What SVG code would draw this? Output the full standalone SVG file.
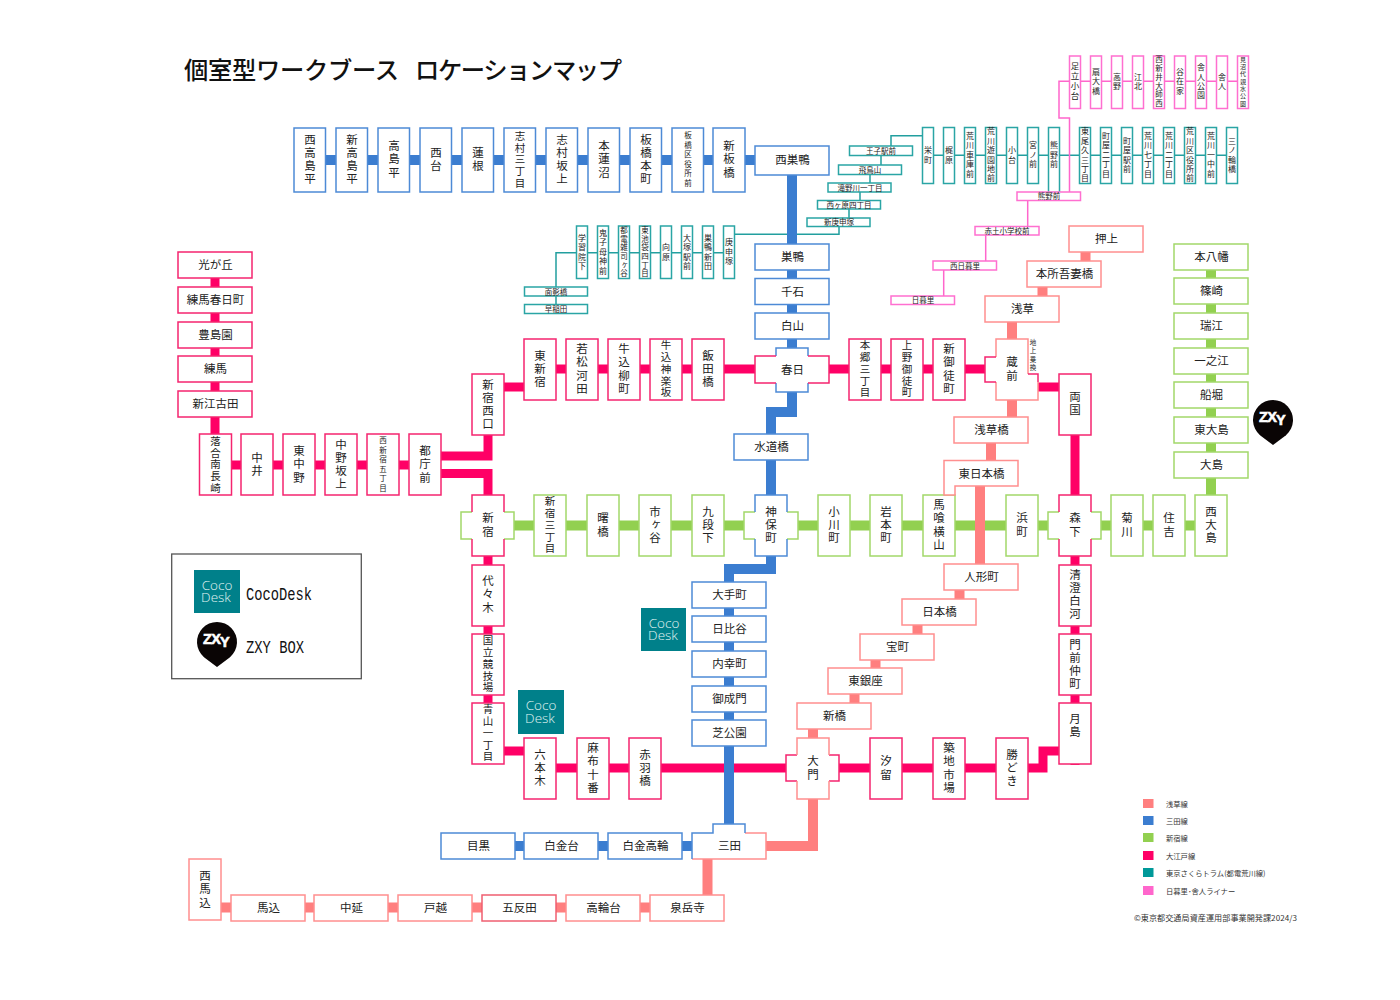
<svg xmlns="http://www.w3.org/2000/svg" xmlns:xlink="http://www.w3.org/1999/xlink" width="1400" height="1000" viewBox="0 0 1400 1000">
<style>
text{font-family:"Noto Sans CJK JP","Noto Sans",sans-serif;fill:#222;text-anchor:middle}
.h{font-size:11.5px;dominant-baseline:central;transform:translate(.5px,-1px)}
.hs{font-size:7.5px;dominant-baseline:central;transform:translate(0,-.5px)}
.v2,.v3,.v4,.v5,.v6,.tv,.tp,.t6,.t7,.tiny{writing-mode:vertical-rl;text-orientation:upright}
.v2,.v3,.v4{font-size:11.5px;letter-spacing:1.8px}
.v5{font-size:10.5px;letter-spacing:1.2px}
.v6{font-size:7.5px;letter-spacing:2px}
.tv{font-size:8px;letter-spacing:1.4px}
.tp{font-size:8.5px;letter-spacing:1.5px}
.t6{font-size:7.5px;letter-spacing:1.2px}
.t7{font-size:6px;letter-spacing:1.3px}
.tiny{font-size:6.5px;letter-spacing:2px}
.bl{stroke:#4d8ad6;stroke-width:1.5;fill:#fff}
.gr{stroke:#a2d86a;stroke-width:1.5;fill:#fff}
.oe{stroke:#f5246f;stroke-width:1.5;fill:#fff}
.as{stroke:#ff8f8f;stroke-width:1.5;fill:#fff}
.te{stroke:#2aa5a5;stroke-width:1.5;fill:#fff}
.pk{stroke:#ff6fd0;stroke-width:1.5;fill:#fff}
.open{fill:none}
.nb{fill:#fff;stroke:none}
.L{fill:none}
.lb{stroke:#3b7dd0;stroke-width:10}
.lg{stroke:#92d050;stroke-width:10}
.lo{stroke:#ff0066;stroke-width:9}
.la{stroke:#ff7f7f;stroke-width:10}
.lt{stroke:#229f9f;stroke-width:1.5}
.lp{stroke:#ff66cc;stroke-width:1.5}
.coco{fill:#00808a}
.ct{font-family:"Open Sans","Liberation Sans",sans-serif;font-weight:300;font-size:13.5px;fill:#e2f4f2}
.lab{font-family:"Liberation Mono",monospace;font-size:18px;text-anchor:start;fill:#111}
.leg{font-size:7.3px;text-anchor:start;fill:#333;dominant-baseline:central}
.ttl{font-size:24.3px;font-weight:500;text-anchor:start;fill:#111;dominant-baseline:central}
</style>
<defs>
<g id="pin"><path d="M0 25L-13 15.200A20 20 0 1 1 13 15.200Z" fill="#0a0505"/><text x="-1" y="2" font-size="14.5" font-weight="700" letter-spacing="-.8" stroke="#fff" stroke-width=".6" style="font-family:'Liberation Sans',sans-serif;fill:#fff">ZX<tspan dy="3">Y</tspan></text></g>
</defs>

<text class="ttl" x="184" y="68.500" textLength="215" lengthAdjust="spacing">個室型ワークブース</text>
<text class="ttl" x="415" y="68.500" textLength="207" lengthAdjust="spacing">ロケーションマップ</text>

<g id="connectors" class="L">
<path class="lt" d="M891 146V135.700H923M933 155.300H1237M881 155V166M870 175V184M860 192V201M849 209V219M839 226V234.300H734M556 287V252.700H734M556 296V305"/>
<path class="lp" d="M1238 81.300H1059V118H1069.500V192M1027.700 200V226M985.700 235V261M943.700 270V296"/>
<path class="lg" d="M488 525.500H1211V470M1211 251V470"/>
<path class="lo" d="M215 265V465H441M441 456H488V374M441 473.500H488V495M504 387H530M524 369H1012M1030 387H1075V525M1075 525V765M488 556V751H540M540 768H1043V751H1075"/>
<path class="la" d="M1085.500 240V270M1042.500 270V300M1012 310V420M991 435V470M980 480V570M959.500 585V605M917.500 620V640M875.500 655V675M854.500 690V710M813 725V846H766M707.500 859V900M221 907.500H650"/>
<path class="lb" d="M325 160H755M792 170V412H771V434M771 460V569H729V846M515 846H692"/>
</g>

<g id="stations-mita-top">
<g id="n-nishitakashimadaira"><rect class="bl" x="294" y="128" width="31.500" height="64"/><text class="v4" x="310" y="160">西高島平</text></g>
<g id="n-shintakashimadaira"><rect class="bl" x="336" y="128" width="31.500" height="64"/><text class="v4" x="352" y="160">新高島平</text></g>
<g id="n-takashimadaira"><rect class="bl" x="378" y="128" width="31.500" height="64"/><text class="v3" x="394" y="160">高島平</text></g>
<g id="n-nishidai"><rect class="bl" x="420" y="128" width="31.500" height="64"/><text class="v2" x="436" y="160">西台</text></g>
<g id="n-hasune"><rect class="bl" x="462" y="128" width="31.500" height="64"/><text class="v2" x="478" y="160">蓮根</text></g>
<g id="n-shimura3"><rect class="bl" x="504" y="128" width="31.500" height="64"/><text class="v5" x="520" y="160">志村三丁目</text></g>
<g id="n-shimurasakaue"><rect class="bl" x="546" y="128" width="31.500" height="64"/><text class="v4" x="562" y="160">志村坂上</text></g>
<g id="n-motohasunuma"><rect class="bl" x="588" y="128" width="31.500" height="64"/><text class="v3" x="604" y="160">本蓮沼</text></g>
<g id="n-itabashihoncho"><rect class="bl" x="630" y="128" width="31.500" height="64"/><text class="v4" x="646" y="160">板橋本町</text></g>
<g id="n-itabashikuyakusho"><rect class="bl" x="672" y="128" width="31.500" height="64"/><text class="v6" x="688" y="160">板橋区役所前</text></g>
<g id="n-shinitabashi"><rect class="bl" x="713" y="128" width="32" height="64"/><text class="v3" x="729" y="160">新板橋</text></g>
<g id="n-nishisugamo"><rect class="bl" x="755" y="146" width="74" height="29"/><text class="h" x="792" y="160">西巣鴨</text></g>
<g id="n-sugamo"><rect class="bl" x="755" y="244" width="74" height="26"/><text class="h" x="792" y="257">巣鴨</text></g>
<g id="n-sengoku"><rect class="bl" x="755" y="278.500" width="74" height="26"/><text class="h" x="792" y="291.500">千石</text></g>
<g id="n-hakusan"><rect class="bl" x="755" y="313" width="74" height="26"/><text class="h" x="792" y="326">白山</text></g>
<g id="n-kasuga"><path class="nb" d="M776 348H808V356H829V383H808V392H776V383H755V356H776Z"/><path class="bl open" d="M776 356V348H808V356M776 383V392H808V383"/><path class="oe open" d="M776 356H755V383H776M808 356H829V383H808"/><text class="h" x="792" y="369.500">春日</text></g>
<g id="n-suidobashi"><rect class="bl" x="734" y="434" width="74" height="26"/><text class="h" x="771" y="447">水道橋</text></g>
<g id="n-jimbocho"><path class="nb" d="M755 495H787V512H798V539H787V556H755V539H744V512H755Z"/><path class="gr open" d="M755 512H744V539H755M787 512H798V539H787"/><path class="bl open" d="M755 512V495H787V512M755 539V556H787V539"/><text class="v2" x="771" y="525.500">神保町</text></g>
<g id="n-otemachi"><rect class="bl" x="692" y="582" width="74" height="26"/><text class="h" x="729" y="595">大手町</text></g>
<g id="n-hibiya"><rect class="bl" x="692" y="616" width="74" height="26"/><text class="h" x="729" y="629">日比谷</text></g>
<g id="n-uchisaiwaicho"><rect class="bl" x="692" y="651" width="74" height="26"/><text class="h" x="729" y="664">内幸町</text></g>
<g id="n-onarimon"><rect class="bl" x="692" y="686" width="74" height="26"/><text class="h" x="729" y="699">御成門</text></g>
<g id="n-shibakoen"><rect class="bl" x="692" y="720" width="74" height="26"/><text class="h" x="729" y="733">芝公園</text></g>
<g id="n-mita"><path class="nb" d="M713 824H745V833H766V859H692V833H713Z"/><path class="as open" d="M745 833H766V859H692"/><path class="bl open" d="M692 859V833H713V824H745V833"/><text class="h" x="729" y="846">三田</text></g>
<g id="n-meguro"><rect class="bl" x="441" y="833" width="74" height="26"/><text class="h" x="478" y="846">目黒</text></g>
<g id="n-shirokanedai"><rect class="bl" x="524" y="833" width="74" height="26"/><text class="h" x="561" y="846">白金台</text></g>
<g id="n-shirokanetakanawa"><rect class="bl" x="608" y="833" width="74" height="26"/><text class="h" x="645" y="846">白金高輪</text></g>
</g>

<g id="stations-oedo">
<g id="n-hikarigaoka"><rect class="oe" x="178" y="252" width="74" height="26"/><text class="h" x="215" y="265">光が丘</text></g>
<g id="n-nerimakasugacho"><rect class="oe" x="178" y="287" width="74" height="26"/><text class="h" x="215" y="300">練馬春日町</text></g>
<g id="n-toshimaen"><rect class="oe" x="178" y="322" width="74" height="26"/><text class="h" x="215" y="335">豊島園</text></g>
<g id="n-nerima"><rect class="oe" x="178" y="356" width="74" height="26"/><text class="h" x="215" y="369">練馬</text></g>
<g id="n-shinegota"><rect class="oe" x="178" y="391" width="74" height="26"/><text class="h" x="215" y="404">新江古田</text></g>
<g id="n-ochiai"><rect class="oe" x="199.500" y="434" width="32" height="61"/><text class="v5" x="215.500" y="465">落合南長崎</text></g>
<g id="n-nakai"><rect class="oe" x="241" y="434" width="32" height="61"/><text class="v2" x="257" y="465">中井</text></g>
<g id="n-higashinakano"><rect class="oe" x="283" y="434" width="32" height="61"/><text class="v3" x="299" y="465">東中野</text></g>
<g id="n-nakanosakaue"><rect class="oe" x="325" y="434" width="32" height="61"/><text class="v4" x="341" y="465">中野坂上</text></g>
<g id="n-nishishinjuku5"><rect class="oe" x="367" y="434" width="32" height="61"/><text class="v6" x="383" y="465">西新宿五丁目</text></g>
<g id="n-tochomae"><rect class="oe" x="409" y="434" width="32" height="61"/><text class="v3" x="425" y="465">都庁前</text></g>
<g id="n-shinjukunishiguchi"><rect class="oe" x="472" y="374" width="32" height="61"/><text class="v4" x="488" y="405">新宿西口</text></g>
<g id="n-higashishinjuku"><rect class="oe" x="524" y="339" width="32" height="61"/><text class="v3" x="540" y="369.500">東新宿</text></g>
<g id="n-wakamatsukawada"><rect class="oe" x="566" y="339" width="32" height="61"/><text class="v4" x="582" y="369.500">若松河田</text></g>
<g id="n-ushigomeyanagicho"><rect class="oe" x="608" y="339" width="32" height="61"/><text class="v4" x="624" y="369.500">牛込柳町</text></g>
<g id="n-ushigomekagurazaka"><rect class="oe" x="650" y="339" width="32" height="61"/><text class="v5" x="666" y="369.500">牛込神楽坂</text></g>
<g id="n-iidabashi"><rect class="oe" x="692" y="339" width="32" height="61"/><text class="v3" x="708" y="369.500">飯田橋</text></g>
<g id="n-hongo3"><rect class="oe" x="849" y="339" width="32" height="61"/><text class="v5" x="865" y="369.500">本郷三丁目</text></g>
<g id="n-uenookachimachi"><rect class="oe" x="891" y="339" width="32" height="61"/><text class="v5" x="907" y="369.500">上野御徒町</text></g>
<g id="n-shinokachimachi"><rect class="oe" x="933" y="339" width="32" height="61"/><text class="v4" x="949" y="369.500">新御徒町</text></g>
<g id="n-ryogoku"><rect class="oe" x="1059" y="374" width="32" height="61"/><text class="v2" x="1075" y="404">両国</text></g>
<g id="n-kiyosumi"><rect class="oe" x="1059" y="565" width="32" height="61"/><text class="v4" x="1075" y="595">清澄白河</text></g>
<g id="n-monzen"><rect class="oe" x="1059" y="634" width="32" height="61"/><text class="v4" x="1075" y="665">門前仲町</text></g>
<g id="n-tsukishima"><rect class="oe" x="1059" y="703" width="32" height="61"/><text class="v2" x="1075" y="726">月島</text></g>
<g id="n-kachidoki"><rect class="oe" x="996" y="738" width="32" height="61"/><text class="v3" x="1012" y="768.500">勝どき</text></g>
<g id="n-tsukiji"><rect class="oe" x="933" y="738" width="32" height="61"/><text class="v4" x="949" y="768.500">築地市場</text></g>
<g id="n-shiodome"><rect class="oe" x="870" y="738" width="32" height="61"/><text class="v2" x="886" y="768.500">汐留</text></g>
<g id="n-akabanebashi"><rect class="oe" x="629" y="738" width="32" height="61"/><text class="v3" x="645" y="768.500">赤羽橋</text></g>
<g id="n-azabujuban"><rect class="oe" x="577" y="738" width="32" height="61"/><text class="v4" x="593" y="768.500">麻布十番</text></g>
<g id="n-roppongi"><rect class="oe" x="524" y="738" width="32" height="61"/><text class="v3" x="540" y="768.500">六本木</text></g>
<g id="n-aoyama"><rect class="oe" x="472" y="703" width="32" height="61"/><text class="v5" x="488" y="733.500">青山一丁目</text></g>
<g id="n-kokuritsu"><rect class="oe" x="472" y="634" width="32" height="61"/><text class="v5" x="488" y="664.500">国立競技場</text></g>
<g id="n-yoyogi"><rect class="oe" x="472" y="565" width="32" height="61"/><text class="v3" x="488" y="595">代々木</text></g>
</g>

<g id="stations-shinjuku">
<g id="n-shinjuku"><path class="nb" d="M472 495H504V512H514V539H504V556H472V539H461V512H472Z"/><path class="gr open" d="M472 512H461V539H472M504 512H514V539H504"/><path class="oe open" d="M472 512V495H504V512M472 539V556H504V539"/><text class="v2" x="488" y="525.500">新宿</text></g>
<g id="n-shinjuku3"><rect class="gr" x="534" y="495" width="32" height="61"/><text class="v5" x="550" y="525.500">新宿三丁目</text></g>
<g id="n-akebonobashi"><rect class="gr" x="587" y="495" width="32" height="61"/><text class="v2" x="603" y="525.500">曙橋</text></g>
<g id="n-ichigaya"><rect class="gr" x="639" y="495" width="32" height="61"/><text class="v3" x="655" y="525.500">市ヶ谷</text></g>
<g id="n-kudanshita"><rect class="gr" x="692" y="495" width="32" height="61"/><text class="v3" x="708" y="525.500">九段下</text></g>
<g id="n-ogawamachi"><rect class="gr" x="818" y="495" width="32" height="61"/><text class="v3" x="834" y="525.500">小川町</text></g>
<g id="n-iwamotocho"><rect class="gr" x="870" y="495" width="32" height="61"/><text class="v3" x="886" y="525.500">岩本町</text></g>
<g id="n-bakuroyokoyama"><rect class="gr" x="923" y="495" width="32" height="61"/><text class="v4" x="939" y="525.500">馬喰横山</text></g>
<g id="n-hamacho"><rect class="gr" x="1006" y="495" width="32" height="61"/><text class="v2" x="1022" y="525.500">浜町</text></g>
<g id="n-morishita"><path class="nb" d="M1059 495H1091V512H1101V539H1091V556H1059V539H1048V512H1059Z"/><path class="gr open" d="M1059 512H1048V539H1059M1091 512H1101V539H1091"/><path class="oe open" d="M1059 512V495H1091V512M1059 539V556H1091V539"/><text class="v2" x="1075" y="525.500">森下</text></g>
<g id="n-kikukawa"><rect class="gr" x="1111" y="495" width="32" height="61"/><text class="v2" x="1127" y="525.500">菊川</text></g>
<g id="n-sumiyoshi"><rect class="gr" x="1153" y="495" width="32" height="61"/><text class="v2" x="1169" y="525.500">住吉</text></g>
<g id="n-nishiojima"><rect class="gr" x="1195" y="495" width="32" height="61"/><text class="v3" x="1211" y="525.500">西大島</text></g>
<g id="n-ojima"><rect class="gr" x="1174" y="452" width="74" height="26"/><text class="h" x="1211" y="465">大島</text></g>
<g id="n-higashiojima"><rect class="gr" x="1174" y="417" width="74" height="26"/><text class="h" x="1211" y="430">東大島</text></g>
<g id="n-funabori"><rect class="gr" x="1174" y="382" width="74" height="26"/><text class="h" x="1211" y="395">船堀</text></g>
<g id="n-ichinoe"><rect class="gr" x="1174" y="348" width="74" height="26"/><text class="h" x="1211" y="361">一之江</text></g>
<g id="n-mizue"><rect class="gr" x="1174" y="313" width="74" height="26"/><text class="h" x="1211" y="326">瑞江</text></g>
<g id="n-shinozaki"><rect class="gr" x="1174" y="278" width="74" height="26"/><text class="h" x="1211" y="291">篠崎</text></g>
<g id="n-motoyawata"><rect class="gr" x="1174" y="244" width="74" height="26"/><text class="h" x="1211" y="257">本八幡</text></g>
</g>

<g id="stations-asakusa">
<g id="n-oshiage"><rect class="as" x="1069" y="226" width="74" height="26"/><text class="h" x="1106" y="239">押上</text></g>
<g id="n-honjo"><rect class="as" x="1027" y="261" width="74" height="26"/><text class="h" x="1064" y="274">本所吾妻橋</text></g>
<g id="n-asakusa"><rect class="as" x="985" y="296" width="74" height="26"/><text class="h" x="1022" y="309">浅草</text></g>
<g id="n-kuramae"><path class="nb" d="M996 339H1028V374H1038V400H996V382H985V357H996Z"/><path class="as open" d="M996 357V339H1028V374M1038 382V400H996V382"/><path class="oe open" d="M996 382H985V357H996M1028 374H1038V382"/><text class="v2" x="1012" y="369.500">蔵前</text><text class="tiny" x="1033" y="356">地上乗換</text></g>
<g id="n-asakusabashi"><rect class="as" x="954" y="417" width="74" height="26"/><text class="h" x="991" y="430">浅草橋</text></g>
<g id="n-higashinihombashi"><path class="as" d="M944 460.500H1018V486H955V495H944Z"/><text class="h" x="981" y="473.500">東日本橋</text></g>
<g id="n-ningyocho"><rect class="as" x="944" y="564" width="74" height="26"/><text class="h" x="981" y="577">人形町</text></g>
<g id="n-nihombashi"><rect class="as" x="902" y="599" width="74" height="26"/><text class="h" x="939" y="612">日本橋</text></g>
<g id="n-takaracho"><rect class="as" x="860" y="634" width="74" height="26"/><text class="h" x="897" y="647">宝町</text></g>
<g id="n-higashiginza"><rect class="as" x="828" y="668" width="74" height="26"/><text class="h" x="865" y="681">東銀座</text></g>
<g id="n-shimbashi"><rect class="as" x="797" y="703" width="74" height="26"/><text class="h" x="834" y="716">新橋</text></g>
<g id="n-daimon"><path class="nb" d="M797 738H829V755H839V781H829V799H797V781H786V755H797Z"/><path class="oe open" d="M797 755H786V781H797M829 755H839V781H829"/><path class="as open" d="M797 755V738H829V755M797 781V799H829V781"/><text class="v2" x="813" y="768.500">大門</text></g>
<g id="n-sengakuji"><rect class="as" x="650" y="895" width="74" height="26"/><text class="h" x="687" y="908">泉岳寺</text></g>
<g id="n-takanawadai"><rect class="as" x="566" y="895" width="74" height="26"/><text class="h" x="603" y="908">高輪台</text></g>
<g id="n-gotanda"><rect class="as" x="482" y="895" width="74" height="26" style="stroke:#ef5f70"/><text class="h" x="519" y="908">五反田</text></g>
<g id="n-togoshi"><rect class="as" x="398" y="895" width="74" height="26"/><text class="h" x="435" y="908">戸越</text></g>
<g id="n-nakanobu"><rect class="as" x="314" y="895" width="74" height="26"/><text class="h" x="351" y="908">中延</text></g>
<g id="n-magome"><rect class="as" x="231" y="895" width="74" height="26"/><text class="h" x="268" y="908">馬込</text></g>
<g id="n-nishimagome"><rect class="as" x="189" y="859" width="32" height="61"/><text class="v3" x="205" y="890">西馬込</text></g>
</g>

<g id="stations-tram">
<g id="n-sakaecho"><rect class="te" x="922.500" y="127.500" width="11" height="56"/><text class="tv" x="928" y="155.500">栄町</text></g>
<g id="n-kajiwara"><rect class="te" x="943.500" y="127.500" width="11" height="56"/><text class="tv" x="949" y="155.500">梶原</text></g>
<g id="n-arakawashako"><rect class="te" x="964.500" y="127.500" width="11" height="56"/><text class="tv" x="970" y="155.500">荒川車庫前</text></g>
<g id="n-arakawayuen"><rect class="te" x="985.500" y="127.500" width="11" height="56"/><text class="tv" x="991" y="155.500">荒川遊園地前</text></g>
<g id="n-odai"><rect class="te" x="1006.500" y="127.500" width="11" height="56"/><text class="tv" x="1012" y="155.500">小台</text></g>
<g id="n-miyanomae"><rect class="te" x="1027.500" y="127.500" width="11" height="56"/><text class="tv" x="1033" y="155.500">宮ノ前</text></g>
<g id="n-kumanomae-tram"><rect class="te" x="1048.500" y="127.500" width="11" height="65"/><text class="tv" x="1054" y="155.500">熊野前</text></g>
<g id="n-higashiogu"><rect class="te" x="1079.500" y="127.500" width="11" height="56"/><text class="tv" x="1085" y="155.500">東尾久三丁目</text></g>
<g id="n-machiya2"><rect class="te" x="1100.500" y="127.500" width="11" height="56"/><text class="tv" x="1106" y="155.500">町屋二丁目</text></g>
<g id="n-machiyaekimae"><rect class="te" x="1121.500" y="127.500" width="11" height="56"/><text class="tv" x="1127" y="155.500">町屋駅前</text></g>
<g id="n-arakawa7"><rect class="te" x="1142.500" y="127.500" width="11" height="56"/><text class="tv" x="1148" y="155.500">荒川七丁目</text></g>
<g id="n-arakawa2"><rect class="te" x="1163.500" y="127.500" width="11" height="56"/><text class="tv" x="1169" y="155.500">荒川二丁目</text></g>
<g id="n-arakawakuyakusho"><rect class="te" x="1184.500" y="127.500" width="11" height="56"/><text class="tv" x="1190" y="155.500">荒川区役所前</text></g>
<g id="n-arakawaitchu"><rect class="te" x="1205.500" y="127.500" width="11" height="56"/><text class="tv" x="1211" y="155.500">荒川一中前</text></g>
<g id="n-minowabashi"><rect class="te" x="1226.500" y="127.500" width="11" height="56"/><text class="tv" x="1232" y="155.500">三ノ輪橋</text></g>
<g id="n-ojiekimae"><rect class="te" x="849.500" y="146" width="63" height="9.500"/><text class="hs" x="881" y="150.500">王子駅前</text></g>
<g id="n-asukayama"><rect class="te" x="838.500" y="165" width="63" height="9.500"/><text class="hs" x="870" y="169.500">飛鳥山</text></g>
<g id="n-takinogawa"><rect class="te" x="828" y="183" width="63" height="9"/><text class="hs" x="860" y="187.500">滝野川一丁目</text></g>
<g id="n-nishigahara"><rect class="te" x="817.500" y="200.500" width="63" height="8.500"/><text class="hs" x="849" y="204.500">西ヶ原四丁目</text></g>
<g id="n-shinkoshinzuka"><rect class="te" x="807" y="218" width="63" height="8.500"/><text class="hs" x="839" y="222">新庚申塚</text></g>
<g id="n-koshinzuka"><rect class="te" x="723.500" y="226" width="11" height="52.500"/><text class="tv" x="729" y="252.500">庚申塚</text></g>
<g id="n-sugamoshinden"><rect class="te" x="702.500" y="226" width="11" height="52.500"/><text class="tv" x="708" y="252.500">巣鴨新田</text></g>
<g id="n-otsukaekimae"><rect class="te" x="681.500" y="226" width="11" height="52.500"/><text class="tv" x="687" y="252.500">大塚駅前</text></g>
<g id="n-mukohara"><rect class="te" x="660.500" y="226" width="11" height="52.500"/><text class="tv" x="666" y="252.500">向原</text></g>
<g id="n-higashiikebukuro"><rect class="te" x="639.500" y="226" width="11" height="52.500"/><text class="t6" x="645" y="252.500">東池袋四丁目</text></g>
<g id="n-zoshigaya"><rect class="te" x="618.500" y="226" width="11" height="52.500"/><text class="t6" x="624" y="252.500">都電雑司ヶ谷</text></g>
<g id="n-kishibojin"><rect class="te" x="597.500" y="226" width="11" height="52.500"/><text class="tv" x="603" y="252.500">鬼子母神前</text></g>
<g id="n-gakushuin"><rect class="te" x="576.500" y="226" width="11" height="52.500"/><text class="tv" x="582" y="252.500">学習院下</text></g>
<g id="n-omokagebashi"><rect class="te" x="524.500" y="287" width="63" height="9"/><text class="hs" x="556" y="291.500">面影橋</text></g>
<g id="n-waseda"><rect class="te" x="524.500" y="304.500" width="63" height="9"/><text class="hs" x="556" y="309">早稲田</text></g>
</g>

<g id="stations-liner">
<g id="n-adachiodai"><rect class="pk" x="1069.500" y="56" width="11" height="52.500"/><text class="tp" x="1075" y="82">足立小台</text></g>
<g id="n-ogiohashi"><rect class="pk" x="1090.500" y="56" width="11" height="52.500"/><text class="tv" x="1096" y="82">扇大橋</text></g>
<g id="n-koya"><rect class="pk" x="1111.500" y="56" width="11" height="52.500"/><text class="tv" x="1117" y="82">高野</text></g>
<g id="n-kohoku"><rect class="pk" x="1132.500" y="56" width="11" height="52.500"/><text class="tv" x="1138" y="82">江北</text></g>
<g id="n-nishiaraidaishinishi"><rect class="pk" x="1153.500" y="56" width="11" height="52.500"/><text class="t6" x="1159" y="82">西新井大師西</text></g>
<g id="n-yazaike"><rect class="pk" x="1174.500" y="56" width="11" height="52.500"/><text class="tv" x="1180" y="82">谷在家</text></g>
<g id="n-toneripark"><rect class="pk" x="1195.500" y="56" width="11" height="52.500"/><text class="tv" x="1201" y="82">舎人公園</text></g>
<g id="n-toneri"><rect class="pk" x="1216.500" y="56" width="11" height="52.500"/><text class="tv" x="1222" y="82">舎人</text></g>
<g id="n-minumadai"><rect class="pk" x="1237.500" y="56" width="11" height="52.500"/><text class="t7" x="1243" y="82">見沼代親水公園</text></g>
<g id="n-kumanomae"><rect class="pk" x="1017" y="192" width="63.500" height="8.500"/><text class="hs" x="1049" y="196">熊野前</text></g>
<g id="n-akado"><rect class="pk" x="975" y="226.500" width="64" height="8.500"/><text class="hs" x="1007" y="230.500">赤土小学校前</text></g>
<g id="n-nishinippori"><rect class="pk" x="933" y="261" width="63.500" height="9"/><text class="hs" x="965" y="265.500">西日暮里</text></g>
<g id="n-nippori"><rect class="pk" x="891" y="296" width="63.500" height="8.500"/><text class="hs" x="923" y="300">日暮里</text></g>
</g>

<g id="cocodesk-1"><rect class="coco" x="641" y="608" width="45" height="43"/><text class="ct"><tspan x="664" y="628">Coco</tspan><tspan x="663" y="640">Desk</tspan></text></g>
<g id="cocodesk-2"><rect class="coco" x="518" y="690" width="46" height="44"/><text class="ct"><tspan x="541" y="710">Coco</tspan><tspan x="540" y="723">Desk</tspan></text></g>
<use id="zxy-1" xlink:href="#pin" href="#pin" x="1273" y="420"/>

<g id="legend-box">
<rect x="171.700" y="554" width="189.600" height="124.700" fill="#fff" stroke="#555" stroke-width="1.300"/>
<rect class="coco" x="194" y="570" width="46" height="43"/>
<text class="ct"><tspan x="217" y="590">Coco</tspan><tspan x="216" y="602">Desk</tspan></text>
<text class="lab" x="246" y="600" textLength="66" lengthAdjust="spacingAndGlyphs">CocoDesk</text>
<use xlink:href="#pin" href="#pin" x="217" y="642"/>
<text class="lab" x="246" y="653" textLength="58" lengthAdjust="spacingAndGlyphs">ZXY BOX</text>
</g>

<g id="legend">
<rect x="1143" y="799" width="10.500" height="9" fill="#ff7f7f"/><text class="leg" x="1166" y="803.500">浅草線</text>
<rect x="1143" y="816" width="10.500" height="9" fill="#3b7dd0"/><text class="leg" x="1166" y="820.500">三田線</text>
<rect x="1143" y="833" width="10.500" height="9" fill="#92d050"/><text class="leg" x="1166" y="838">新宿線</text>
<rect x="1143" y="851" width="10.500" height="9" fill="#ff0066"/><text class="leg" x="1166" y="855.500">大江戸線</text>
<rect x="1143" y="868" width="10.500" height="9" fill="#009999"/><text class="leg" x="1166" y="872.500">東京さくらトラム(都電荒川線)</text>
<rect x="1143" y="886" width="10.500" height="9" fill="#ff66cc"/><text class="leg" x="1166" y="890.500">日暮里･舎人ライナー</text>
<text class="leg" x="1134" y="917" style="font-size:8.100px" textLength="163" lengthAdjust="spacing">©東京都交通局資産運用部事業開発課2024/3</text>
</g>
</svg>
